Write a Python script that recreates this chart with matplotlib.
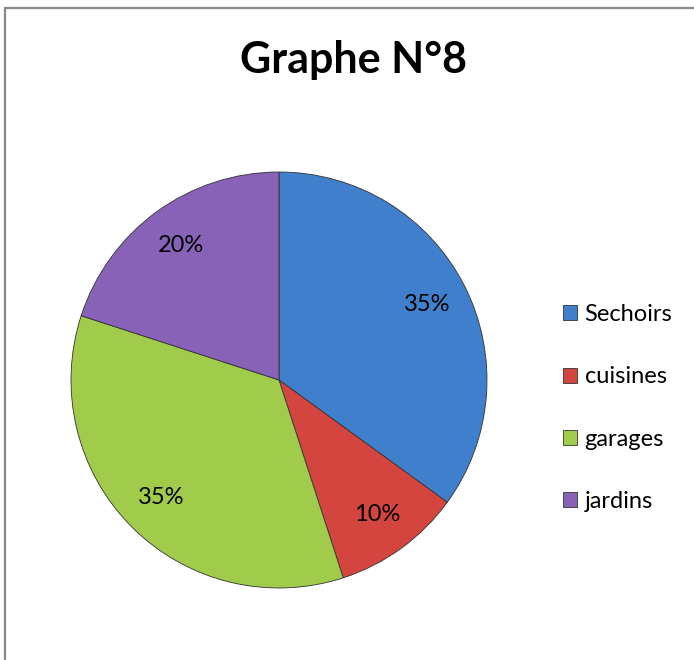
import matplotlib.pyplot as plt
from matplotlib.patches import Rectangle

categories = ['Sechoirs', 'cuisines', 'garages', 'jardins']
values = [35, 10, 35, 20]
colors = ['#3F7FCC', '#D3453E', '#A0CB4B', '#8762B6']

plt.rcParams['font.family'] = ['Lato', 'DejaVu Sans']

fig = plt.figure(figsize=(6.94, 6.60), dpi=100)

# chart frame (only top and left sides visible in the crop)
fig.patches.append(Rectangle((5 / 694, -0.1), 1.2, 1.1 - 8 / 660, transform=fig.transFigure,
                             fill=False, edgecolor='#888888', linewidth=1.6))

ax = fig.add_axes([71 / 694, 72 / 660, 416 / 694, 416 / 660])
wedges, texts, autotexts = ax.pie(values, colors=colors, startangle=90, counterclock=False,
                                  autopct='%d%%', pctdistance=0.8,
                                  wedgeprops={'edgecolor': '#333333', 'linewidth': 0.6})
for t in autotexts:
    t.set_fontsize(17)
    t.set_color('black')
ax.set_xlim(-1.0, 1.0)
ax.set_ylim(-1.0, 1.0)
ax.set_aspect('equal')

fig.text(354 / 694, 1 - 60 / 660, 'Graphe N°8', ha='center', va='center',
         fontsize=31, fontweight='bold')

fig.legend(wedges, categories, loc='center left', bbox_to_anchor=(542 / 694, 1 - 408 / 660),
           frameon=False, fontsize=17, handlelength=0.6, handleheight=0.6,
           handletextpad=0.3, labelspacing=1.75)

fig.savefig('out.png', dpi=100)
plt.close()
